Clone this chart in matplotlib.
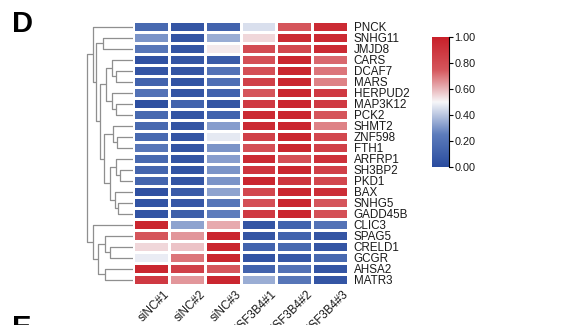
import numpy as np
import matplotlib
matplotlib.use("Agg")
import matplotlib.pyplot as plt
from matplotlib.colors import LinearSegmentedColormap

plt.rcParams["font.family"] = ["Liberation Sans", "DejaVu Sans"]

# ---- data ----
genes = ["PNCK", "SNHG11", "JMJD8", "CARS", "DCAF7", "MARS", "HERPUD2",
         "MAP3K12", "PCK2", "SHMT2", "ZNF598", "FTH1", "ARFRP1", "SH3BP2",
         "PKD1", "BAX", "SNHG5", "GADD45B", "CLIC3", "SPAG5", "CRELD1",
         "GCGR", "AHSA2", "MATR3"]
samples = ["siNC#1", "siNC#2", "siNC#3", "siSF3B4#1", "siSF3B4#2", "siSF3B4#3"]

values = np.array([
    [0.15, 0.05, 0.12, 0.45, 0.75, 0.95],
    [0.30, 0.05, 0.35, 0.55, 0.95, 0.95],
    [0.22, 0.05, 0.52, 0.80, 0.82, 0.95],
    [0.03, 0.05, 0.08, 0.78, 0.97, 0.72],
    [0.05, 0.05, 0.20, 0.78, 0.97, 0.70],
    [0.12, 0.04, 0.18, 0.85, 0.97, 0.68],
    [0.20, 0.05, 0.12, 0.75, 0.97, 0.88],
    [0.02, 0.12, 0.05, 0.88, 0.97, 0.88],
    [0.15, 0.05, 0.12, 0.95, 0.97, 0.75],
    [0.15, 0.05, 0.32, 0.95, 0.97, 0.68],
    [0.15, 0.05, 0.47, 0.85, 0.97, 0.82],
    [0.22, 0.05, 0.30, 0.78, 0.97, 0.85],
    [0.15, 0.05, 0.32, 0.95, 0.78, 0.92],
    [0.13, 0.04, 0.30, 0.90, 0.97, 0.85],
    [0.13, 0.05, 0.30, 0.97, 0.90, 0.82],
    [0.03, 0.08, 0.33, 0.82, 0.97, 0.93],
    [0.04, 0.06, 0.22, 0.78, 0.97, 0.75],
    [0.04, 0.10, 0.25, 0.88, 0.97, 0.78],
    [0.97, 0.33, 0.62, 0.05, 0.12, 0.20],
    [0.75, 0.65, 0.97, 0.05, 0.12, 0.05],
    [0.55, 0.58, 0.97, 0.12, 0.15, 0.05],
    [0.48, 0.70, 0.97, 0.04, 0.06, 0.15],
    [0.97, 0.85, 0.75, 0.12, 0.20, 0.05],
    [0.88, 0.65, 0.97, 0.35, 0.22, 0.05],
])

# row dendrogram: (height, left, right), leaves are row indices
row_tree = (46,
            (40.3, 0,
             (37, (30, 1, 2),
              (33,
               (27, (21, 3, (17, 4, 5)), (21, 6, (17, 7, 8))),
               (29, (20, 9, (16, 10, 11)),
                (23, (17, 12, (13, 13, 14)), (18, 15, (15, 16, 17))))))),
            (40, 18,
             (35, (28, 19, (23, 20, 21)), (28, 22, 23))))


def draw_tree(ax, node, color="#8f8f8f", lw=0.9):
    """Draw node, return (y_center, height)."""
    if isinstance(node, int):
        return node + 0.5, 0.0
    h, left, right = node
    yl, hl = draw_tree(ax, left, color, lw)
    yr, hr = draw_tree(ax, right, color, lw)
    ax.plot([-hl, -h, -h, -hr], [yl, yl, yr, yr], color=color, lw=lw,
            solid_capstyle="butt")
    return (yl + yr) / 2, h


cmap = LinearSegmentedColormap.from_list(
    "bwr_custom", ["#2a4c9f", "#5d7cbc", "#f7f7f9", "#d5565c", "#c9202a"])

fig = plt.figure(figsize=(5.81, 3.25), dpi=100)
W, H = 581, 325


def px_axes(x0, y0, x1, y1):
    return fig.add_axes([x0 / W, 1 - y1 / H, (x1 - x0) / W, (y1 - y0) / H])


# heatmap
ax = px_axes(133, 21, 348, 285)
nr, nc = values.shape
ax.pcolormesh(np.arange(nc + 1), np.arange(nr + 1), values, cmap=cmap,
              vmin=0, vmax=1, edgecolors="white", linewidth=0.8)
ax.set_xlim(0, nc)
ax.set_ylim(nr, 0)
for s in ax.spines.values():
    s.set_visible(False)
ax.tick_params(length=0)
ax.set_yticks(np.arange(nr) + 0.5)
ax.set_yticklabels(genes, fontsize=8.4, color="#1a1a1a")
ax.yaxis.tick_right()
ax.tick_params(axis="y", pad=4)
ax.set_xticks([])
for j, lab in enumerate(samples):
    ax.text(j + 0.85, nr + 0.3, lab, rotation=45, rotation_mode="anchor",
            ha="right", va="top", fontsize=8.4, color="#1a1a1a")

# dendrogram
dax = px_axes(85, 21, 133, 285)
draw_tree(dax, row_tree)
dax.set_xlim(-48, 0)
dax.set_ylim(nr, 0)
dax.axis("off")

# colorbar
cax = px_axes(432, 37, 449, 167)
grad = np.linspace(0, 1, 256).reshape(-1, 1)
cax.imshow(grad, aspect="auto", cmap=cmap, origin="lower",
           extent=[0, 1, 0, 1])
cax.set_xticks([])
cax.yaxis.tick_right()
cax.set_yticks(np.linspace(0, 1, 6))
cax.set_yticklabels([f"{v:.2f}" for v in np.linspace(0, 1, 6)],
                    fontsize=7.8, color="#1a1a1a")
cax.tick_params(axis="y", length=3, width=0.8, pad=1)
for k in ["left", "top", "bottom"]:
    cax.spines[k].set_visible(False)
cax.spines["right"].set_linewidth(0.8)

# panel letters
fig.text(12 / W, 1 - 32 / H, "D", fontsize=21, fontweight="bold")
fig.text(12 / W, 1 - 336 / H, "E", fontsize=21, fontweight="bold")

fig.savefig("out.png", dpi=100)
